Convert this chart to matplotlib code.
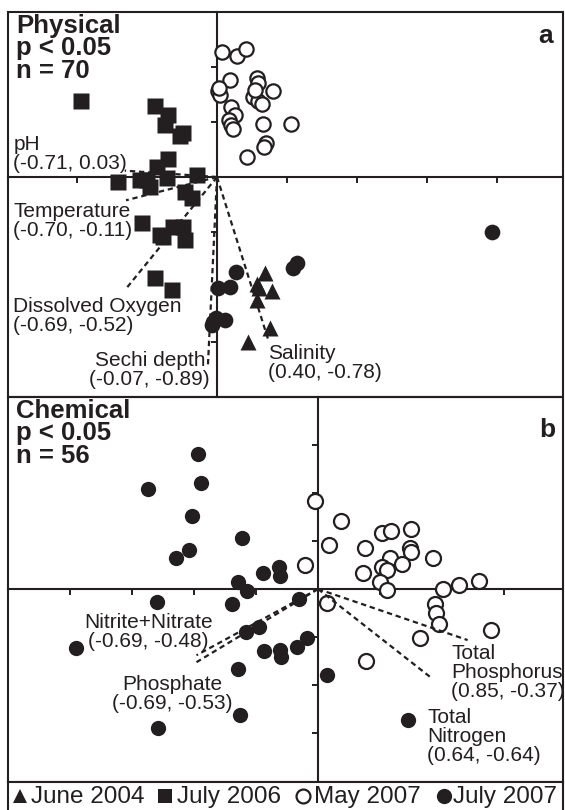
import matplotlib
matplotlib.use('Agg')
import matplotlib.pyplot as plt
from matplotlib.patches import Rectangle

plt.rcParams['font.family'] = ['Liberation Sans', 'DejaVu Sans']

W, H = 565, 810
INK = '#231f20'

# ---- panel a : physical (ordination scores) ----
a_may07_x = [0.07, 0.29, 0.41, 0.19, 0.01, 0.04, 0.57, 0.59, 0.80, 0.51, 0.59, 0.64,
             0.20, 0.26, 0.17, 0.20, 0.23, 0.66, 1.06, 0.70, 0.67, 0.43, 0.54, 0.03]
a_may07_y = [2.27, 2.20, 2.33, 1.76, 1.56, 1.49, 1.80, 1.71, 1.56, 1.45, 1.38, 1.33,
             1.27, 1.13, 1.04, 0.95, 0.87, 0.96, 0.96, 0.62, 0.55, 0.36, 1.58, 1.62]
a_jul06_x = [-1.94, -0.89, -0.70, -0.74, -0.53, -0.49, -0.70, -0.86, -1.41, -1.00, -0.96, -0.71,
             -0.29, -0.46, -0.36, -1.07, -0.77, -0.49, -0.63, -0.46, -0.89, -0.64, -0.81, -1.10]
a_jul06_y = [1.38, 1.29, 1.13, 0.95, 0.75, 0.80, 0.33, 0.18, -0.09, -0.05, -0.18, -0.02,
             0.04, -0.27, -0.38, -0.84, -1.09, -0.91, -0.91, -1.15, -1.84, -2.05, -1.05, -0.05]
a_jul07_x = [3.93, 1.14, 1.09, 0.27, 0.01, 0.19, -0.06, 0.11, -0.07, -0.01]
a_jul07_y = [-1.00, -1.56, -1.65, -1.73, -2.02, -2.00, -2.64, -2.60, -2.69, -2.56]
a_jun04_x = [0.69, 0.57, 0.79, 0.57, 0.76, 0.44, 0.60]
a_jun04_y = [-1.75, -1.95, -2.07, -2.24, -2.75, -3.00, -2.02]

a_vec_names = ['pH', 'Temperature', 'Dissolved Oxygen', 'Sechi depth', 'Salinity']
a_vec_x = [-0.71, -0.70, -0.69, -0.07, 0.40]
a_vec_y = [0.03, -0.11, -0.52, -0.89, -0.78]

# ---- panel b : chemical ----
b_jul07_x = [-1.94, -1.89, -2.74, -2.03, -1.23, -2.08, -2.29, -0.89, -0.63, -0.61, -1.29, -1.15,
             -2.60, -1.39, -0.31, -1.16, -0.95, -3.90, -0.18, -0.34, -0.61, -0.60, -0.87, -1.29,
             -1.26, -2.58, 0.15, 1.45]
b_jul07_y = [2.81, 2.21, 2.08, 1.52, 1.06, 0.81, 0.65, 0.33, 0.46, 0.27, 0.15, -0.04,
             -0.27, -0.31, -0.21, -0.90, -0.79, -1.23, -1.02, -1.21, -1.27, -1.42, -1.29, -1.67,
             -2.63, -2.90, -1.79, -2.73]
b_may07_x = [-0.05, 0.37, 0.18, -0.21, 0.76, 1.03, 1.18, 1.50, 1.48, 1.50, 1.85, 1.16, 1.35, 1.03,
             0.73, 1.11, 1.00, 1.11, 2.02, 2.27, 2.60, 1.89, 1.90, 1.95, 1.65, 2.79, 0.15, 0.77]
b_may07_y = [1.83, 1.42, 0.92, 0.50, 0.85, 1.17, 1.21, 1.25, 0.85, 0.77, 0.65, 0.65, 0.52, 0.46,
             0.33, 0.40, 0.15, -0.02, 0.00, 0.08, 0.17, -0.31, -0.50, -0.73, -1.02, -0.85, -0.29, -1.50]

b_vec_names = ['Nitrite+Nitrate', 'Phosphate', 'Total\nPhosphorus', 'Total\nNitrogen']
b_vec_x = [-0.69, -0.69, 0.85, 0.64]
b_vec_y = [-0.48, -0.53, -0.37, -0.64]

legend_labels = ['June 2004', 'July 2006', 'May 2007', 'July 2007']

fig = plt.figure(figsize=(W / 100, H / 100), dpi=100)


def px_axes(l, t, r, b):
    return fig.add_axes([l / W, 1 - b / H, (r - l) / W, (b - t) / H])


def setup_panel(ax, xlim, ylim, xticks, yticks):
    ax.set_xlim(*xlim)
    ax.set_ylim(*ylim)
    for s in ['top', 'right']:
        ax.spines[s].set_visible(False)
    ax.spines['left'].set_position(('data', 0))
    ax.spines['bottom'].set_position(('data', 0))
    for s in ['left', 'bottom']:
        ax.spines[s].set_linewidth(1.5)
        ax.spines[s].set_color(INK)
    ax.set_xticks(xticks)
    ax.set_yticks(yticks)
    ax.tick_params(direction='out', length=4.5, width=1.4, color=INK,
                   labelbottom=False, labelleft=False)
    ax.add_patch(Rectangle((0, 0), 1, 1, transform=ax.transAxes, fill=False,
                           lw=1.5, ec=INK, clip_on=False, zorder=5))
    ax.set_facecolor('none')


def draw_vectors(ax, vx, vy, sx, sy):
    for x, y in zip(vx, vy):
        ax.plot([0, x * sx], [0, y * sy], ls=(0, (2.4, 1.7)), lw=1.6, color=INK, zorder=4)


mkw = dict(ls='none', color=INK, zorder=3)

# panel a
axa = px_axes(8, 12, 563, 397)
setup_panel(axa, (-2.986, 4.943), (-4.0, 3.0), [-2, -1, 1, 2, 3, 4], [-3, -2, -1, 1, 2])
axa.plot(a_may07_x, a_may07_y, marker='o', ms=10.3, mfc='white', mec=INK, mew=1.6, **mkw)
axa.plot(a_jul06_x, a_jul06_y, marker='s', ms=11.3, mec='none', **mkw)
axa.plot(a_jul07_x, a_jul07_y, marker='o', ms=11.3, mec='none', **mkw)
axa.plot(a_jun04_x, a_jun04_y, marker='^', ms=12, mec='none', **mkw)
draw_vectors(axa, a_vec_x, a_vec_y, 1.857, 3.85)

# label anchors (x, y, ha) for each vector label
a_lab_pos = [(-2.91, 0.42, 'left'), (-2.91, -0.80, 'left'), (-2.91, -2.52, 'left'),
             (-0.96, -3.51, 'center'), (0.73, -3.39, 'left')]
for name, vx, vy, (tx, ty, ha) in zip(a_vec_names, a_vec_x, a_vec_y, a_lab_pos):
    axa.text(tx, ty, f'{name}\n({vx:.2f}, {vy:.2f})', ha=ha, va='center',
             fontsize=15, color=INK, linespacing=1.0, zorder=6)

# panel b
axb = px_axes(8, 397, 563, 782)
setup_panel(axb, (-5.0, 3.952), (-4.02, 4.0), [-4, -3, -2, -1, 1, 2, 3], [-3, -2, -1, 1, 2, 3])
axb.plot(b_may07_x, b_may07_y, marker='o', ms=10.8, mfc='white', mec=INK, mew=1.6, **mkw)
axb.plot(b_jul07_x, b_jul07_y, marker='o', ms=11, mec='none', **mkw)
draw_vectors(axb, b_vec_x, b_vec_y, 2.84, 2.875)

b_lab_pos = [(-2.74, -0.90, 'center'), (-2.35, -2.19, 'center'),
             (2.15, -1.73, 'left'), (1.76, -3.08, 'left')]
for name, vx, vy, (tx, ty, ha) in zip(b_vec_names, b_vec_x, b_vec_y, b_lab_pos):
    axb.text(tx, ty, f'{name}\n({vx:.2f}, {vy:.2f})', ha=ha, va='center',
             fontsize=15, color=INK, linespacing=1.0, zorder=6)

# headers
fig.text(16 / W, 1 - 14 / H, 'Physical\np < 0.05\nn = 70', fontsize=18.5, fontweight='bold',
         color=INK, va='top', ha='left', linespacing=0.92)
fig.text(16 / W, 1 - 399 / H, 'Chemical\np < 0.05\nn = 56', fontsize=18.5, fontweight='bold',
         color=INK, va='top', ha='left', linespacing=0.92)
fig.text(553 / W, 1 - 36 / H, 'a', fontsize=19, fontweight='bold', color=INK, ha='right', va='center')
fig.text(555 / W, 1 - 430 / H, 'b', fontsize=19, fontweight='bold', color=INK, ha='right', va='center')

# legend strip
axl = px_axes(8, 782, 563, 810)
axl.set_xlim(0, 555)
axl.set_ylim(0, 1)
axl.set_xticks([])
axl.set_yticks([])
axl.spines['bottom'].set_visible(False)
for s in ['top', 'left', 'right']:
    axl.spines[s].set_linewidth(1.5)
    axl.spines[s].set_color(INK)
leg_marks = [dict(marker='^', mfc=INK, ms=10.5), dict(marker='s', mfc=INK, ms=9.5),
             dict(marker='o', mfc='white', ms=10, mew=1.6), dict(marker='o', mfc=INK, ms=11)]
leg_mx = [12, 157, 295, 436]
leg_tx = [23, 169, 306, 445]
for lab, mk, mx, tx in zip(legend_labels, leg_marks, leg_mx, leg_tx):
    mk = dict(mk)
    mk.setdefault('mew', 0)
    axl.plot([mx], [0.5], ls='none', mec=INK, color=INK, clip_on=False, **mk)
    axl.text(tx, 0.45, lab, fontsize=17.5, color=INK, ha='left', va='center')

fig.savefig('out.png', dpi=100)
